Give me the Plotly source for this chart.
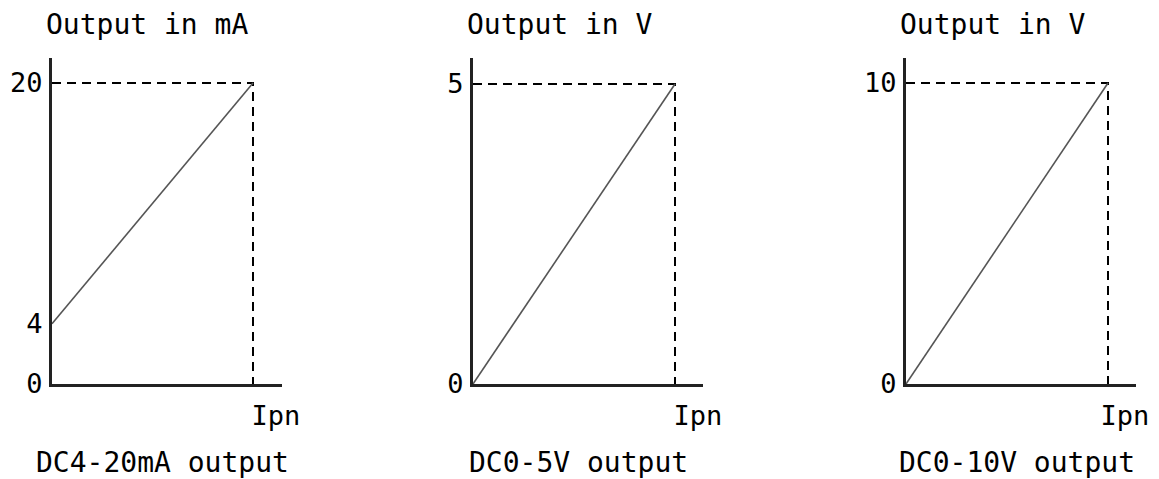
import plotly.graph_objects as go

# ---- data ----
titles = ["Output in mA", "Output in V", "Output in V"]
captions = ["DC4-20mA output", "DC0-5V output", "DC0-10V output"]
x_label = "Ipn"
x_points = [0, 1]              # 0 .. Ipn (normalised)
y_start = [4, 0, 0]            # output at zero input
y_full = [20, 5, 10]           # output at Ipn
y_ticks = [[0, 4, 20], [0, 5], [0, 10]]

OFF = 8                         # page body margin
W, H = 1159 - OFF, 479 - OFF
FONT = "DejaVu Sans Mono"

# panel geometry in page pixels (x0 = axis origin, xi = Ipn, xe = axis end)
panels = [
    dict(x0=52, xi=253, xe=282, ytop_val=83, lblshift=23),
    dict(x0=473, xi=675, xe=703, ytop_val=84, lblshift=23),
    dict(x0=906, xi=1108, xe=1136, ytop_val=83, lblshift=17),
]
Y0, YTOP = 384, 58
title_cx = [147, 560, 993]
caption_cx = [162, 578, 1017]


def px(x):
    return (x - OFF) / W


def py(y):
    return (H - (y - OFF)) / H


fig = go.Figure()
annotations = []
for i, p in enumerate(panels):
    n = "" if i == 0 else str(i + 1)
    xa, ya = "x" + n, "y" + n
    # dashed guide lines
    fig.add_trace(go.Scatter(
        x=[x_points[0], x_points[1], x_points[1]],
        y=[y_full[i], y_full[i], 0],
        mode="lines", line=dict(color="black", width=2, dash="9px,6px"),
        xaxis=xa, yaxis=ya, hoverinfo="skip", showlegend=False))
    # transfer line
    fig.add_trace(go.Scatter(
        x=x_points, y=[y_start[i], y_full[i]],
        mode="lines", line=dict(color="#555555", width=1.6),
        xaxis=xa, yaxis=ya, showlegend=False))

    xrange_max = (p["xe"] - p["x0"]) / (p["xi"] - p["x0"])
    ppu = (Y0 - p["ytop_val"]) / y_full[i]
    yrange_max = (Y0 - YTOP) / ppu
    xkey = "xaxis" + n
    ykey = "yaxis" + n
    fig.layout[xkey] = dict(
        domain=[px(p["x0"]), px(p["xe"])], range=[0, xrange_max],
        anchor=ya, showgrid=False, zeroline=False, showline=True,
        linecolor="#222222", linewidth=3, ticks="", automargin=False,
        tickvals=[1], ticktext=[x_label], ticklabelshift=p["lblshift"],
        ticklabelstandoff=6,
        tickfont=dict(family=FONT, size=27, color="black"), fixedrange=True)
    fig.layout[ykey] = dict(
        domain=[py(Y0), py(YTOP)], range=[0, yrange_max],
        anchor=xa, showgrid=False, zeroline=False, showline=True,
        linecolor="#222222", linewidth=3, ticks="", automargin=False,
        tickvals=y_ticks[i], ticktext=[str(v) for v in y_ticks[i]],
        ticklabelstandoff=1,
        tickfont=dict(family=FONT, size=27, color="black"), fixedrange=True)

    annotations.append(dict(
        x=px(title_cx[i]), y=py(25), xref="paper", yref="paper",
        text=titles[i], showarrow=False, xanchor="center", yanchor="middle",
        font=dict(family=FONT, size=28, color="black")))
    annotations.append(dict(
        x=px(caption_cx[i]), y=py(462), xref="paper", yref="paper",
        text=captions[i], showarrow=False, xanchor="center", yanchor="middle",
        font=dict(family=FONT, size=28, color="black")))

fig.update_layout(
    width=W, height=H, margin=dict(l=0, r=0, t=0, b=0, autoexpand=False),
    paper_bgcolor="white", plot_bgcolor="white",
    annotations=annotations, showlegend=False)

fig.write_html("out.html")
